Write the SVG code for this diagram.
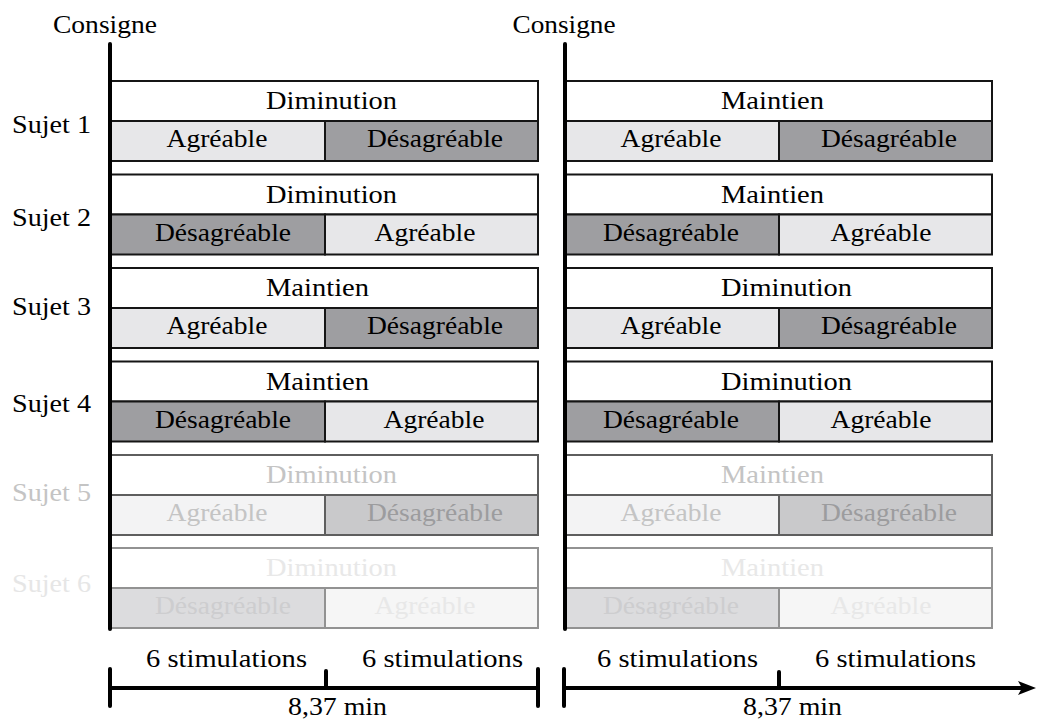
<svg xmlns="http://www.w3.org/2000/svg" width="1037" height="723" viewBox="0 0 1037 723">
<style>
text{font-family:'Liberation Serif','DejaVu Serif',serif;font-size:26px;fill:#000}
.m{text-anchor:middle}
.w{fill:#fff}
.a{fill:#e7e7e9}
.d{fill:#9e9ea1}
.box rect{stroke:#151515;stroke-width:2}
.f5 rect{stroke:#5e5e5e}
.f5 .a{fill:#f3f3f4}.f5 .d{fill:#c9c9cb}
.f5 text{fill:#c4c4c4}
.f5 text.td{fill:#9c9c9e}
.f6 rect{stroke:#929292}
.f6 .a{fill:#f6f6f6}.f6 .d{fill:#dcdcde}
.f6 text{fill:#e8e8e8}
.f6 text.td{fill:#cdcdcf}
.axis{stroke:#000;stroke-width:4;fill:none;stroke-linecap:round}
.head{fill:#000;stroke:none}
</style>

<g id="labels">
<text x="105" y="33" class="m" textLength="104" lengthAdjust="spacingAndGlyphs">Consigne</text>
<text x="564" y="33" class="m" textLength="103" lengthAdjust="spacingAndGlyphs">Consigne</text>
<text x="12" y="133" textLength="79" lengthAdjust="spacingAndGlyphs">Sujet 1</text>
<text x="12" y="226" textLength="79" lengthAdjust="spacingAndGlyphs">Sujet 2</text>
<text x="12" y="315" textLength="79" lengthAdjust="spacingAndGlyphs">Sujet 3</text>
<text x="12" y="412" textLength="79" lengthAdjust="spacingAndGlyphs">Sujet 4</text>
<text x="12" y="501" textLength="79" lengthAdjust="spacingAndGlyphs" style="fill:#c4c4c4">Sujet 5</text>
<text x="12" y="592" textLength="79" lengthAdjust="spacingAndGlyphs" style="fill:#e6e6e6">Sujet 6</text>
</g>

<!-- Sujet 1 -->
<g id="s1-left" class="box">
<rect x="111" y="81" width="427" height="40" class="w"/>
<rect x="111" y="121" width="214" height="40" class="a"/>
<rect x="325" y="121" width="213" height="40" class="d"/>
<text x="266" y="109" textLength="131" lengthAdjust="spacingAndGlyphs">Diminution</text>
<text x="217" y="147" class="m" textLength="101" lengthAdjust="spacingAndGlyphs">Agréable</text>
<text x="435" y="147" class="m" textLength="136" lengthAdjust="spacingAndGlyphs">Désagréable</text>
</g>
<g id="s1-right" class="box">
<rect x="566" y="81" width="426" height="40" class="w"/>
<rect x="566" y="121" width="213" height="40" class="a"/>
<rect x="779" y="121" width="213" height="40" class="d"/>
<text x="721" y="109" textLength="103" lengthAdjust="spacingAndGlyphs">Maintien</text>
<text x="671" y="147" class="m" textLength="101" lengthAdjust="spacingAndGlyphs">Agréable</text>
<text x="889" y="147" class="m" textLength="136" lengthAdjust="spacingAndGlyphs">Désagréable</text>
</g>

<!-- Sujet 2 -->
<g id="s2-left" class="box">
<rect x="111" y="174.5" width="427" height="40" class="w"/>
<rect x="111" y="214.5" width="214" height="40" class="d"/>
<rect x="325" y="214.5" width="213" height="40" class="a"/>
<text x="266" y="202.5" textLength="131" lengthAdjust="spacingAndGlyphs">Diminution</text>
<text x="223" y="240.5" class="m" textLength="136" lengthAdjust="spacingAndGlyphs">Désagréable</text>
<text x="425" y="240.5" class="m" textLength="101" lengthAdjust="spacingAndGlyphs">Agréable</text>
</g>
<g id="s2-right" class="box">
<rect x="566" y="174.5" width="426" height="40" class="w"/>
<rect x="566" y="214.5" width="213" height="40" class="d"/>
<rect x="779" y="214.5" width="213" height="40" class="a"/>
<text x="721" y="202.5" textLength="103" lengthAdjust="spacingAndGlyphs">Maintien</text>
<text x="671" y="240.5" class="m" textLength="136" lengthAdjust="spacingAndGlyphs">Désagréable</text>
<text x="881" y="240.5" class="m" textLength="101" lengthAdjust="spacingAndGlyphs">Agréable</text>
</g>

<!-- Sujet 3 -->
<g id="s3-left" class="box">
<rect x="111" y="268" width="427" height="40" class="w"/>
<rect x="111" y="308" width="214" height="40" class="a"/>
<rect x="325" y="308" width="213" height="40" class="d"/>
<text x="266" y="296" textLength="103" lengthAdjust="spacingAndGlyphs">Maintien</text>
<text x="217" y="334" class="m" textLength="101" lengthAdjust="spacingAndGlyphs">Agréable</text>
<text x="435" y="334" class="m" textLength="136" lengthAdjust="spacingAndGlyphs">Désagréable</text>
</g>
<g id="s3-right" class="box">
<rect x="566" y="268" width="426" height="40" class="w"/>
<rect x="566" y="308" width="213" height="40" class="a"/>
<rect x="779" y="308" width="213" height="40" class="d"/>
<text x="721" y="296" textLength="131" lengthAdjust="spacingAndGlyphs">Diminution</text>
<text x="671" y="334" class="m" textLength="101" lengthAdjust="spacingAndGlyphs">Agréable</text>
<text x="889" y="334" class="m" textLength="136" lengthAdjust="spacingAndGlyphs">Désagréable</text>
</g>

<!-- Sujet 4 -->
<g id="s4-left" class="box">
<rect x="111" y="361.5" width="427" height="40" class="w"/>
<rect x="111" y="401.5" width="214" height="40" class="d"/>
<rect x="325" y="401.5" width="213" height="40" class="a"/>
<text x="266" y="389.5" textLength="103" lengthAdjust="spacingAndGlyphs">Maintien</text>
<text x="223" y="427.5" class="m" textLength="136" lengthAdjust="spacingAndGlyphs">Désagréable</text>
<text x="434" y="427.5" class="m" textLength="101" lengthAdjust="spacingAndGlyphs">Agréable</text>
</g>
<g id="s4-right" class="box">
<rect x="566" y="361.5" width="426" height="40" class="w"/>
<rect x="566" y="401.5" width="213" height="40" class="d"/>
<rect x="779" y="401.5" width="213" height="40" class="a"/>
<text x="721" y="389.5" textLength="131" lengthAdjust="spacingAndGlyphs">Diminution</text>
<text x="671" y="427.5" class="m" textLength="136" lengthAdjust="spacingAndGlyphs">Désagréable</text>
<text x="881" y="427.5" class="m" textLength="101" lengthAdjust="spacingAndGlyphs">Agréable</text>
</g>

<!-- Sujet 5 -->
<g id="s5-left" class="box f5">
<rect x="111" y="455" width="427" height="40" class="w"/>
<rect x="111" y="495" width="214" height="40" class="a"/>
<rect x="325" y="495" width="213" height="40" class="d"/>
<text x="266" y="483" textLength="131" lengthAdjust="spacingAndGlyphs">Diminution</text>
<text x="217" y="521" class="m" textLength="101" lengthAdjust="spacingAndGlyphs">Agréable</text>
<text x="435" y="521" class="m td" textLength="136" lengthAdjust="spacingAndGlyphs">Désagréable</text>
</g>
<g id="s5-right" class="box f5">
<rect x="566" y="455" width="426" height="40" class="w"/>
<rect x="566" y="495" width="213" height="40" class="a"/>
<rect x="779" y="495" width="213" height="40" class="d"/>
<text x="721" y="483" textLength="103" lengthAdjust="spacingAndGlyphs">Maintien</text>
<text x="671" y="521" class="m" textLength="101" lengthAdjust="spacingAndGlyphs">Agréable</text>
<text x="889" y="521" class="m td" textLength="136" lengthAdjust="spacingAndGlyphs">Désagréable</text>
</g>

<!-- Sujet 6 -->
<g id="s6-left" class="box f6">
<rect x="111" y="548" width="427" height="40" class="w"/>
<rect x="111" y="588" width="214" height="40" class="d"/>
<rect x="325" y="588" width="213" height="40" class="a"/>
<text x="266" y="576" textLength="131" lengthAdjust="spacingAndGlyphs">Diminution</text>
<text x="223" y="614" class="m td" textLength="136" lengthAdjust="spacingAndGlyphs">Désagréable</text>
<text x="425" y="614" class="m" textLength="101" lengthAdjust="spacingAndGlyphs">Agréable</text>
</g>
<g id="s6-right" class="box f6">
<rect x="566" y="548" width="426" height="40" class="w"/>
<rect x="566" y="588" width="213" height="40" class="d"/>
<rect x="779" y="588" width="213" height="40" class="a"/>
<text x="721" y="576" textLength="103" lengthAdjust="spacingAndGlyphs">Maintien</text>
<text x="671" y="614" class="m td" textLength="136" lengthAdjust="spacingAndGlyphs">Désagréable</text>
<text x="881" y="614" class="m" textLength="101" lengthAdjust="spacingAndGlyphs">Agréable</text>
</g>

<g id="connectors">
<line class="axis" x1="110" y1="44" x2="110" y2="629"/>
<line class="axis" x1="565" y1="44" x2="565" y2="629"/>
<line class="axis" x1="110" y1="688" x2="538" y2="688" style="stroke-linecap:butt"/>
<line class="axis" x1="110" y1="669" x2="110" y2="706"/>
<line class="axis" x1="326" y1="671" x2="326" y2="688"/>
<line class="axis" x1="538" y1="669" x2="538" y2="706"/>
<line class="axis" x1="564" y1="688" x2="1024" y2="688" style="stroke-linecap:butt"/>
<line class="axis" x1="564" y1="669" x2="564" y2="706"/>
<line class="axis" x1="779" y1="672" x2="779" y2="688"/>
<path class="head" d="M1036,688 L1018,681 L1022,688 L1018,695 Z"/>
</g>

<g id="timeline-labels">
<text x="146" y="667" textLength="161" lengthAdjust="spacingAndGlyphs">6 stimulations</text>
<text x="362" y="667" textLength="161" lengthAdjust="spacingAndGlyphs">6 stimulations</text>
<text x="288" y="715" textLength="99" lengthAdjust="spacingAndGlyphs">8,37 min</text>
<text x="597" y="667" textLength="161" lengthAdjust="spacingAndGlyphs">6 stimulations</text>
<text x="815" y="667" textLength="161" lengthAdjust="spacingAndGlyphs">6 stimulations</text>
<text x="743" y="715" textLength="99" lengthAdjust="spacingAndGlyphs">8,37 min</text>
</g>
</svg>
